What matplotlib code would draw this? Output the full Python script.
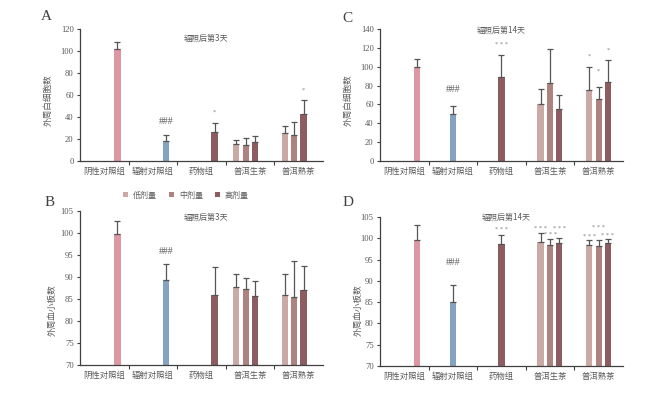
import matplotlib
matplotlib.use("Agg")
import matplotlib.pyplot as plt
from matplotlib.patches import Patch
import numpy as np

plt.rcParams['font.family'] = ['Noto Sans CJK SC', 'DejaVu Sans']

groups = ['阴性对照组', '辐射对照组', '药物组', '普洱生茶', '普洱熟茶']
dose_labels = ['低剂量', '中剂量', '高剂量']

# Panel A: WBC day 3
a_ctrl = [101.5, 18.5, 26.4]
a_ctrl_err = [7.0, 5.5, 8.4]
a_raw = [15.5, 14.8, 17.0]
a_raw_err = [3.3, 6.4, 5.4]
a_ripe = [25.2, 23.6, 42.4]
a_ripe_err = [6.9, 12.1, 13.1]

# Panel C: WBC day 14
c_ctrl = [99.5, 49.4, 89.5]
c_ctrl_err = [8.9, 9.2, 22.8]
c_raw = [60.4, 83.1, 54.8]
c_raw_err = [16.0, 35.6, 15.5]
c_ripe = [75.3, 65.7, 84.2]
c_ripe_err = [24.2, 13.1, 23.4]

# Panel B: PLT day 3
b_ctrl = [99.7, 89.3, 85.8]
b_ctrl_err = [2.95, 3.6, 6.4]
b_raw = [87.7, 87.3, 85.6]
b_raw_err = [2.9, 2.5, 3.4]
b_ripe = [85.8, 85.5, 87.0]
b_ripe_err = [4.8, 8.1, 5.5]

# Panel D: PLT day 14
d_ctrl = [99.7, 85.1, 98.7]
d_ctrl_err = [3.4, 4.0, 2.1]
d_raw = [99.2, 98.4, 98.8]
d_raw_err = [2.0, 1.5, 1.3]
d_ripe = [98.4, 98.25, 98.9]
d_ripe_err = [1.3, 1.45, 0.9]

# significance marks: (group index, slot index, text, y)
a_marks = [(1, 3, '###', 36.0), (2, 3, '*', 44.0), (4, 2, '*', 64.0)]
b_marks = [(1, 3, '###', 95.8)]
c_marks = [(1, 3, '###', 76.0), (2, 3, '***', 123.3), (4, 0, '*', 111.5),
           (4, 1, '*', 95.6), (4, 2, '*', 117.2)]
d_marks = [(1, 3, '###', 94.4), (2, 3, '***', 102.0),
           (3, 0, '***', 102.3), (3, 1, '***', 100.9), (3, 2, '***', 102.3),
           (4, 0, '***', 100.5), (4, 1, '***', 102.6), (4, 2, '***', 100.7)]

col_neg = '#DC97A3'
col_rad = '#84A3C0'
col_dose = ['#CBA9A5', '#AE827F', '#8D5C60']
ctrl_colors = [col_neg, col_rad, col_dose[2]]
txt_col = '#595959'
axis_col = '#404040'
serif = 'Liberation Serif'

fig = plt.figure(figsize=(6.47, 3.99), dpi=100)

W = 647.0
H = 399.0


def rect(l, r, t, b):
    return [l / W, 1 - b / H, (r - l) / W, (b - t) / H]


def panel(ax_rect, ctrl, ctrl_err, raw, raw_err, ripe, ripe_err, ylim, ystep,
          slot_off, ctrl_off, marks, title, title_xy, letter, letter_xy, ylabel, ylabel_xy):
    ax = fig.add_axes(ax_rect)
    bw = 0.13
    ekw = dict(ecolor='#555555', elinewidth=0.9, capsize=2.2, capthick=0.9)
    xpos = {}
    for i in range(3):
        x = i + 0.5 + ctrl_off[i]
        xpos[(i, 3)] = x
        ax.bar(x, ctrl[i], bw, color=ctrl_colors[i], zorder=2)
        ax.errorbar(x, ctrl[i], yerr=[[0], [ctrl_err[i]]], fmt='none', zorder=3, **ekw)
    for gi, (vals, errs) in zip([3, 4], [(raw, raw_err), (ripe, ripe_err)]):
        for k in range(3):
            x = gi + 0.5 + slot_off[k]
            xpos[(gi, k)] = x
            ax.bar(x, vals[k], bw, color=col_dose[k], zorder=2)
            ax.errorbar(x, vals[k], yerr=[[0], [errs[k]]], fmt='none', zorder=3, **ekw)
    for gi, slot, t, y in marks:
        x = xpos[(gi, slot)]
        if t.startswith('*'):
            ax.text(x, y, ' '.join(t), ha='center', va='center', fontsize=4.6,
                    color='#808080', family=serif)
        else:
            ax.text(x, y, t, ha='center', va='center', fontsize=7,
                    color=txt_col, family=serif)
    ax.set_xlim(0, 5)
    ax.set_ylim(*ylim)
    ax.set_yticks(np.arange(ylim[0], ylim[1] + 0.1, ystep))
    ax.set_yticklabels([f'{int(v)}' for v in np.arange(ylim[0], ylim[1] + 0.1, ystep)],
                       family=serif, fontsize=6.2, color=txt_col)
    ax.set_xticks([1, 2, 3, 4])
    ax.set_xticklabels([])
    ax.set_xticks([0.5, 1.5, 2.5, 3.5, 4.5], minor=True)
    ax.set_xticklabels(groups, minor=True, fontsize=6, color=txt_col)
    ax.tick_params(axis='x', which='major', length=3, width=0.8, color=axis_col, direction='out')
    ax.tick_params(axis='x', which='minor', length=0, pad=4)
    ax.tick_params(axis='y', length=2.5, width=0.8, color=axis_col, pad=2)
    for s in ['top', 'right']:
        ax.spines[s].set_visible(False)
    for s in ['left', 'bottom']:
        ax.spines[s].set_color(axis_col)
        ax.spines[s].set_linewidth(0.9)
    fig.text(title_xy[0] / W, 1 - title_xy[1] / H, title, ha='center', va='center',
             fontsize=5.8, color=txt_col)
    fig.text(letter_xy[0] / W, 1 - letter_xy[1] / H, letter, ha='center', va='center',
             fontsize=11, color='#404040', family=serif)
    fig.text(ylabel_xy[0] / W, 1 - ylabel_xy[1] / H, ylabel, ha='center', va='center',
             rotation=90, fontsize=6.2, color=txt_col)
    return ax


ab_slots = [-0.285, -0.09, 0.10]
ab_ctrl = [0.27, 0.27, 0.27]
cd_slots = [-0.195, 0.0, 0.19]
cd_ctrl = [0.26, 0.0, 0.0]

panel(rect(80, 323, 29, 161), a_ctrl, a_ctrl_err, a_raw, a_raw_err, a_ripe, a_ripe_err,
      (0, 120), 20, ab_slots, ab_ctrl, a_marks, '辐照后第3天', (206, 38), 'A', (46, 17),
      '外周白细胞数', (48, 100))
panel(rect(80, 323, 211, 365), b_ctrl, b_ctrl_err, b_raw, b_raw_err, b_ripe, b_ripe_err,
      (70, 105), 5, ab_slots, ab_ctrl, b_marks, '辐照后第3天', (206, 217), 'B', (50, 203),
      '外周血小板数', (52, 310))
panel(rect(380, 623, 29, 161), c_ctrl, c_ctrl_err, c_raw, c_raw_err, c_ripe, c_ripe_err,
      (0, 140), 20, cd_slots, cd_ctrl, c_marks, '辐照后第14天', (501, 30), 'C', (347, 18),
      '外周白细胞数', (348, 100))
panel(rect(380, 623, 217, 366), d_ctrl, d_ctrl_err, d_raw, d_raw_err, d_ripe, d_ripe_err,
      (70, 105), 5, cd_slots, cd_ctrl, d_marks, '辐照后第14天', (506, 217), 'D', (348, 203),
      '外周血小板数', (358, 310))

handles = [Patch(facecolor=c, edgecolor='none') for c in col_dose]
fig.legend(handles, dose_labels, loc='center', bbox_to_anchor=(186 / W, 1 - 195 / H),
           ncol=3, frameon=False, fontsize=5.8, handlelength=0.6, handleheight=0.6,
           handletextpad=0.6, columnspacing=1.5, labelcolor=txt_col)

fig.savefig('out.png', dpi=100)
